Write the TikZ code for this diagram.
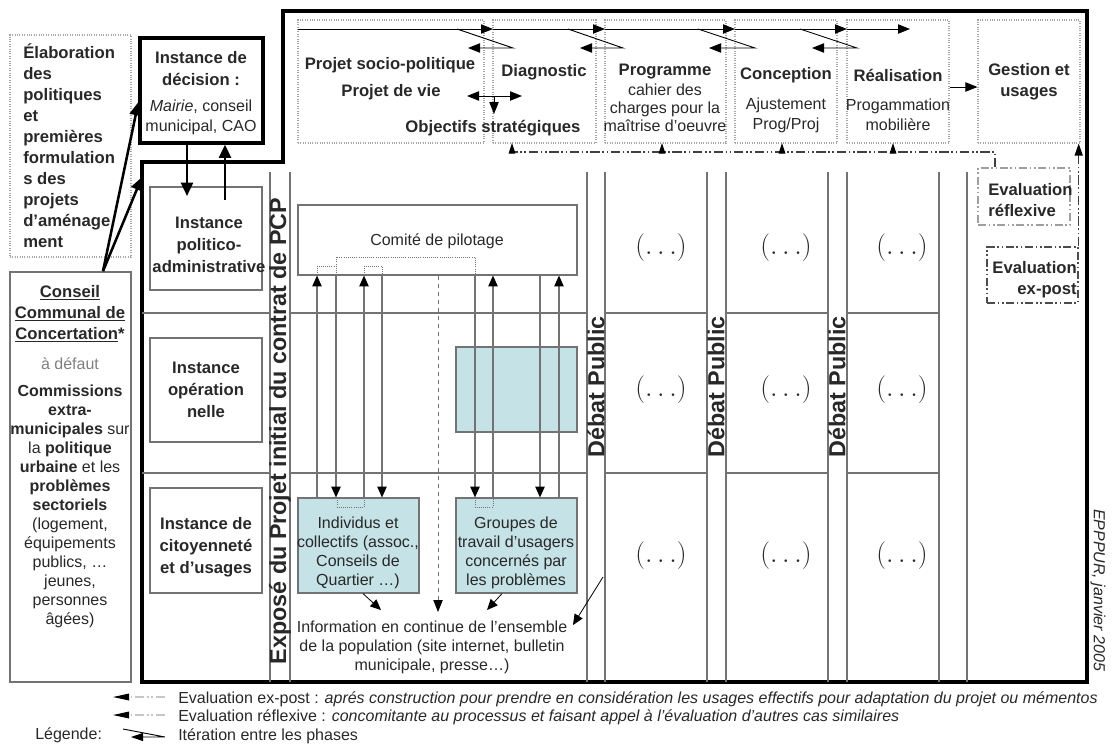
\documentclass[tikz,border=0pt]{standalone}
\usepackage{fontspec}
\setmainfont{Liberation Sans}
\usetikzlibrary{arrows.meta,fit}
\definecolor{gristrait}{RGB}{115,115,115}
\definecolor{bleucase}{RGB}{197,226,230}
\definecolor{encre}{RGB}{40,40,40}
\tikzset{
  phase/.style={draw=gray!70, densely dotted, line width=0.8pt, inner sep=0pt},
  instance/.style={draw=gristrait, line width=1.1pt, inner sep=0pt},
  casebleue/.style={draw=gristrait, line width=0.9pt, fill=bleucase, inner sep=0pt},
  evalcadre/.style={draw=gray!75, line width=1pt, dash pattern=on 6pt off 2pt on 1.2pt off 2pt on 1.2pt off 2pt, inner sep=0pt},
  evaltrait/.style={draw=black!75, line width=0.9pt, dash pattern=on 7pt off 2pt on 1.2pt off 2pt on 1.2pt off 2pt},
  trait/.style={draw=gristrait, line width=0.8pt},
  pointille/.style={draw=gristrait, densely dotted, line width=0.6pt},
  fl/.style={line width=0.7pt, -{Triangle[length=9pt,width=7pt]}},
  grossefl/.style={line width=1.9pt, -{Triangle[length=10pt,width=9pt]}},
  flmince/.style={draw=gristrait, line width=0.8pt, -{Triangle[length=8pt,width=7pt,color=black]}},
  gras/.style={font=\bfseries\fontsize{12.5}{15.75}\selectfont, text=encre, align=center, inner sep=0pt},
  normal/.style={font=\fontsize{12}{14.25}\selectfont, text=encre, align=center, inner sep=0pt},
  colonne/.style={font=\bfseries\fontsize{17.5}{17.5}\selectfont, text=encre, rotate=90, inner sep=0pt},
  etc/.style={font=\fontsize{20}{20}\selectfont, text=encre, inner sep=0pt}
}
\begin{document}
\begin{tikzpicture}[x=0.75pt, y=-0.75pt]
\useasboundingbox (0,0) rectangle (1112,743);

% grand cadre
\draw[line width=2.4pt] (283,11) -- (1087,11) -- (1087,682) -- (142,682) -- (142,162) -- (283,162) -- cycle;

% grille
\foreach \x in {270,290,587,605,707,726,828,847,939,967}
  \draw[trait] (\x,172) -- (\x,682);
\foreach \y in {313,473}
  \foreach \a/\b in {142/270,290/587,605/707,726/828,847/939}
    \draw[trait] (\a,\y) -- (\b,\y);

% phases
\node[phase, fit={(298,20)(484,143)}] (ph1) {};
\node[phase, fit={(493,20)(596,143)}] (ph2) {};
\node[phase, fit={(605,20)(726,143)}] (ph3) {};
\node[phase, fit={(735,20)(837,143)}] (ph4) {};
\node[phase, fit={(847,20)(949,143)}] (ph5) {};
\node[phase, fit={(978,20)(1080,143)}] (ph6) {};

\foreach \a/\b in {298/493,493/605,605/735,735/847,847/910}
  \draw[fl] (\a,29) -- (\b,29);
\foreach \a/\b/\c in {457/513/468,568/623/580,698/755/709,800/857/812}
  \draw[fl] (\a,29) -- (\b,48) -- (\c,48);

\node[gras] (socio) at (390,65) {Projet socio-politique};
\node[gras] (vie) at (391,92) {Projet de vie};
\node[gras] (obj) at (493,128) {Objectifs stratégiques};
\draw[line width=0.7pt, {Triangle[length=9pt,width=7pt]}-{Triangle[length=9pt,width=7pt]}] (467,96) -- (522,96);
\draw[fl] (494,96) -- (494,114);
\node[gras] (diag) at (544,72) {Diagnostic};
\node[gras] (prog) at (665,72) {Programme};
\node[normal, font=\fontsize{12}{13.5}\selectfont] (cdc) at (665,108) {cahier des\\charges pour la\\maîtrise d'oeuvre};
\node[gras] (conc) at (786,75) {Conception};
\node[normal, font=\fontsize{12}{15}\selectfont] (ajust) at (786,115) {Ajustement\\Prog/Proj};
\node[gras] (real) at (898,75) {Réalisation};
\node[normal, font=\fontsize{12}{15}\selectfont] (mob) at (898,115) {Progammation\\mobilière};
\node[gras] (gest) at (1029,82) {Gestion et\\usages};
\draw[fl] (ph5.east |- 0,87) -- (ph6.west |- 0,87);

% evaluations
\node[evalcadre, fit={(978,168)(1070,225)}] (refl) {};
\node[evalcadre, draw=black!70, fit={(987,247)(1078,303)}] (expost) {};
\node[gras, align=left, anchor=west] at (988,200) {Evaluation\\réflexive};
\node[gras, align=right, anchor=east] at (1077,280) {Evaluation\\ex-post};
\draw[evaltrait] (refl.north -| 995,0) -- (995,152) -- (512,152);
\foreach \x in {512,662,782,893}
  \draw[line width=0.7pt, -{Triangle[length=8pt,width=5pt]}] (\x,152) -- (\x,143);
\draw[evaltrait, -{Triangle[length=9pt,width=6pt,color=black]}] (expost.north east) -- (ph6.south -| expost.north east);

% instances
\node[phase, fit={(10,35)(131,257)}] (elab) {};
\node[gras, align=left, anchor=north west] at (23,43) {Élaboration\\des\\politiques\\et\\premières\\formulation\\s des\\projets\\d'aménage\\ment};
\node[instance, draw=black, line width=2.4pt, fit={(140,38)(263,143)}] (dec) {};
\node[gras, font=\bfseries\fontsize{12.5}{16.5}\selectfont] at (201,69) {Instance de\\décision :};
\node[normal, font=\fontsize{12}{15}\selectfont] at (201,117) {\textit{Mairie}, conseil\\municipal, CAO};
\node[instance, fit={(150,187)(262,290)}] (pol) {};
\node[gras, font=\bfseries\fontsize{12.5}{16.5}\selectfont] at (209,245) {Instance\\politico-\\administrative};
\node[instance, fit={(150,338)(262,442)}] (ope) {};
\node[gras, font=\bfseries\fontsize{12.5}{16.5}\selectfont] at (206,390) {Instance\\opération\\nelle};
\node[instance, fit={(150,488)(262,593)}] (cit) {};
\node[gras, font=\bfseries\fontsize{12.5}{16.5}\selectfont] at (206,547) {Instance de\\citoyenneté\\et d'usages};
\draw[grossefl] (dec.south -| 187,0) -- (187,196);
\draw[grossefl] (225,200) -- (dec.south -| 225,0);

\node[instance, line width=1.3pt, fit={(10,272)(131,682)}] (cons) {};
\node[gras] at (70,314) {\underline{Conseil}\\\underline{Communal de}\\\underline{Concertation}*};
\node[normal, text=gray] at (70,364) {à défaut};
\node[normal] at (70,506) {\textbf{Commissions}\\\textbf{extra-}\\\textbf{municipales} sur\\la \textbf{politique}\\\textbf{urbaine} et les\\\textbf{problèmes}\\\textbf{sectoriels}\\(logement,\\équipements\\publics, …\\jeunes,\\personnes\\âgées)};
\coordinate (coin) at (142,177);
\draw[grossefl] (cons.north -| 103,0) -- (dec.west |- 0,102);
\draw[grossefl] (cons.north -| 103,0) -- (coin);

% colonnes verticales
\node[colonne] (expose) at (280,431) {Exposé du Projet initial du contrat de PCP};
\foreach \x in {596,716,837}
  \node[colonne] (debat\x) at (\x,387) {Débat Public};
\foreach \x in {661,786,902}
  \foreach \y in {248,390,556}
    \node[etc] (etc\x\y) at (\x,\y) {$(\ldots)$};

% pilotage
\node[instance, line width=0.9pt, fit={(298,205)(577,275)}] (comite) {};
\node[normal] at (437,241) {Comité de pilotage};
\node[casebleue, fit={(456,347)(577,432)}] (opebleu) {};
\node[casebleue, fit={(298,498)(419,593)}] (indiv) {};
\node[casebleue, fit={(456,498)(577,593)}] (groupes) {};
\node[normal] at (358,553) {Individus et\\collectifs (assoc.,\\Conseils de\\Quartier …)};
\node[normal] at (516,553) {Groupes de\\travail d'usagers\\concernés par\\les problèmes};

\foreach \x in {317,364}
  \draw[flmince] (indiv.north -| \x,0) -- (comite.south -| \x,0);
\foreach \x in {336,382}
  \draw[flmince] (comite.south -| \x,0) -- (indiv.north -| \x,0);
\foreach \x in {493,559}
  \draw[flmince] (groupes.north -| \x,0) -- (comite.south -| \x,0);
\foreach \x in {475,540}
  \draw[flmince] (comite.south -| \x,0) -- (groupes.north -| \x,0);
\draw[pointille] (317,275) |- (336,266);
\draw[pointille] (364,275) |- (382,266) -- (382,275);
\draw[pointille] (336,275) |- (475,257) -- (475,275);
\draw[pointille] (337,498) |- (364,507) -- (364,498);
\draw[pointille] (475,498) |- (493,507) -- (493,498);

\node[normal] (info) at (432,647) {Information en continue de l'ensemble\\de la population (site internet, bulletin\\municipale, presse…)};
\draw[draw=gristrait, dashed, line width=0.7pt, -{Triangle[length=9pt,width=7pt,color=black]}] (comite.south -| 438,0) -- (438,612);
\draw[line width=0.6pt, -{Triangle[length=8pt,width=7pt]}] (indiv.south -| 363,0) -- (381,610);
\draw[line width=0.6pt, -{Triangle[length=8pt,width=7pt]}] (groupes.south -| 502,0) -- (487,610);
\draw[line width=0.6pt, -{Triangle[length=8pt,width=7pt]}] (603,577) -- (573,625);

\node[normal, font=\itshape\fontsize{12}{12}\selectfont, rotate=-90] (source) at (1098,590) {EPPPUR, janvier 2005};

% legende
\node[normal, anchor=west] (leg) at (35,735) {Légende:};
\draw[evaltrait, draw=gray!45, -{Triangle[length=12pt,width=5pt,color=black]}] (165,697) -- (113,697);
\draw[evaltrait, draw=gray!45, -{Triangle[length=12pt,width=5pt,color=black]}] (165,715) -- (113,715);
\draw[line width=0.7pt, -{Triangle[length=9pt,width=6pt]}] (123,729) -- (165,737) -- (131,737);
\node[normal, anchor=west] at (178,699) {Evaluation ex-post : \textit{aprés construction pour prendre en considération les usages effectifs pour adaptation du projet ou mémentos}};
\node[normal, anchor=west] at (178,717) {Evaluation réflexive : \textit{concomitante au processus et faisant appel à l'évaluation d'autres cas similaires}};
\node[normal, anchor=west] at (178,736) {Itération entre les phases};
\end{tikzpicture}
\end{document}
